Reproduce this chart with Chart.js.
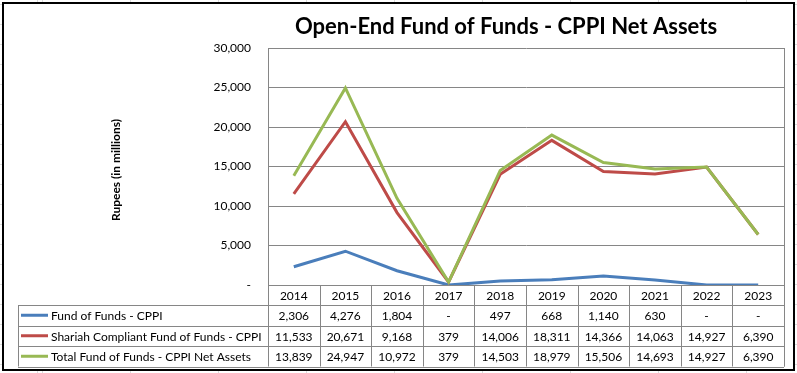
<!DOCTYPE html>
<html>
<head>
<meta charset="utf-8">
<script src="https://cdn.jsdelivr.net/npm/chart.js@4.4.0/dist/chart.umd.min.js"></script>
<style>
  html, body { margin: 0; padding: 0; }
  body {
    width: 797px; height: 373px; position: relative; overflow: hidden;
    background-color: #fff;
    background-image:
      repeating-linear-gradient(to right, #dcdcdc 0 1px, transparent 1px 88px),
      repeating-linear-gradient(to bottom, #dcdcdc 0 1px, transparent 1px 20px);
    background-position: 42px 0, 0 4px;
  }
  #frame {
    position: absolute; left: 2px; top: 2px; width: 789px; height: 365px;
    border: 2px solid #000; background: #fff;
  }
  #chart { position: absolute; left: 0; top: 0; }
</style>
</head>
<body>
<div id="frame"></div>
<canvas id="chart" width="797" height="373"></canvas>
<script>
var years = ['2014','2015','2016','2017','2018','2019','2020','2021','2022','2023'];
var seriesNames = [
    'Fund of Funds - CPPI',
    'Shariah Compliant Fund of Funds - CPPI',
    'Total Fund of Funds - CPPI Net Assets'
];
var fofCppi = [2306, 4276, 1804, 0, 497, 668, 1140, 630, 0, 0];
var shariahCppi = [11533, 20671, 9168, 379, 14006, 18311, 14366, 14063, 14927, 6390];
var totalCppi = [13839, 24947, 10972, 379, 14503, 18979, 15506, 14693, 14927, 6390];
var seriesColors = ['#4a7ebb', '#be4b48', '#98b954'];

var fontFamily = 'Lato, "Open Sans", sans-serif';
var gridColor = '#868686';

function fmt(v) {
    if (v === 0) return '-';
    return v.toLocaleString('en-US');
}

// data table under the plot, Excel style
var dataTable = {
    id: 'dataTable',
    afterDraw: function (chart) {
        var ctx = chart.ctx;
        var area = chart.chartArea;
        var xs = chart.scales.x;
        var n = years.length;
        var top = area.bottom;
        var rows = [top, top + 20, top + 40.5, top + 61, top + 81.5];
        var legendLeft = 18;

        var bounds = [area.left];
        for (var i = 1; i < n; i++) {
            bounds.push((xs.getPixelForValue(i - 1) + xs.getPixelForValue(i)) / 2);
        }
        bounds.push(area.right);

        ctx.save();
        ctx.strokeStyle = gridColor;
        ctx.lineWidth = 1;
        ctx.beginPath();
        // right edge of plot
        ctx.moveTo(Math.round(area.right) + 0.5, area.top);
        ctx.lineTo(Math.round(area.right) + 0.5, rows[4]);
        // horizontal lines
        for (var r = 0; r < rows.length; r++) {
            var x0 = r === 0 ? area.left : legendLeft;
            ctx.moveTo(x0, Math.round(rows[r]) + 0.5);
            ctx.lineTo(area.right, Math.round(rows[r]) + 0.5);
        }
        // vertical lines
        for (var b = 0; b < bounds.length; b++) {
            ctx.moveTo(Math.round(bounds[b]) + 0.5, rows[0]);
            ctx.lineTo(Math.round(bounds[b]) + 0.5, rows[4]);
        }
        ctx.moveTo(legendLeft + 0.5, rows[1]);
        ctx.lineTo(legendLeft + 0.5, rows[4]);
        ctx.stroke();

        ctx.fillStyle = '#000';
        ctx.font = '12px ' + fontFamily;
        ctx.textBaseline = 'middle';
        ctx.textAlign = 'center';
        for (var c = 0; c < n; c++) {
            ctx.fillText(years[c], xs.getPixelForValue(c), (rows[0] + rows[1]) / 2 + 1);
        }

        var values = [fofCppi, shariahCppi, totalCppi];
        for (var s = 0; s < values.length; s++) {
            var cy = (rows[s + 1] + rows[s + 2]) / 2 + 1;
            ctx.textAlign = 'center';
            for (var k = 0; k < n; k++) {
                ctx.fillText(fmt(values[s][k]), xs.getPixelForValue(k), cy);
            }
            ctx.strokeStyle = seriesColors[s];
            ctx.lineWidth = 3;
            ctx.beginPath();
            ctx.moveTo(21, cy - 1);
            ctx.lineTo(48, cy - 1);
            ctx.stroke();
            ctx.textAlign = 'left';
            ctx.fillText(seriesNames[s], 51, cy);
        }

        // title and axis title
        ctx.font = 'bold 22px ' + fontFamily;
        ctx.textAlign = 'center';
        ctx.fillText('Open-End Fund of Funds - CPPI Net Assets', 506, 27);

        ctx.translate(116, 170);
        ctx.rotate(-Math.PI / 2);
        ctx.font = 'bold 12px ' + fontFamily;
        ctx.fillText('Rupees (in millions)', 0, 0);
        ctx.restore();
    }
};

var ctx = document.getElementById('chart').getContext('2d');
var chart = new Chart(ctx, {
    type: 'line',
    data: {
        labels: years,
        datasets: [
            { label: seriesNames[0], data: fofCppi, borderColor: seriesColors[0], order: 3 },
            { label: seriesNames[1], data: shariahCppi, borderColor: seriesColors[1], order: 2 },
            { label: seriesNames[2], data: totalCppi, borderColor: seriesColors[2], order: 1 }
        ]
    },
    options: {
        responsive: false,
        animation: false,
        layout: { padding: { top: 48, right: 13, bottom: 88, left: 0 } },
        elements: {
            line: { borderWidth: 3, tension: 0, borderCapStyle: 'butt' },
            point: { radius: 0 }
        },
        plugins: {
            legend: { display: false },
            title: { display: false },
            tooltip: { enabled: false }
        },
        scales: {
            x: {
                display: false,
                offset: true
            },
            y: {
                min: 0,
                max: 30000,
                ticks: {
                    stepSize: 5000,
                    padding: 17,
                    color: '#000',
                    font: { family: fontFamily, size: 12 },
                    callback: function (v) { return fmt(v); }
                },
                grid: { color: gridColor, drawTicks: false },
                border: { color: gridColor },
                afterFit: function (scale) { scale.width = 268; }
            }
        }
    },
    plugins: [dataTable]
});
</script>
</body>
</html>
